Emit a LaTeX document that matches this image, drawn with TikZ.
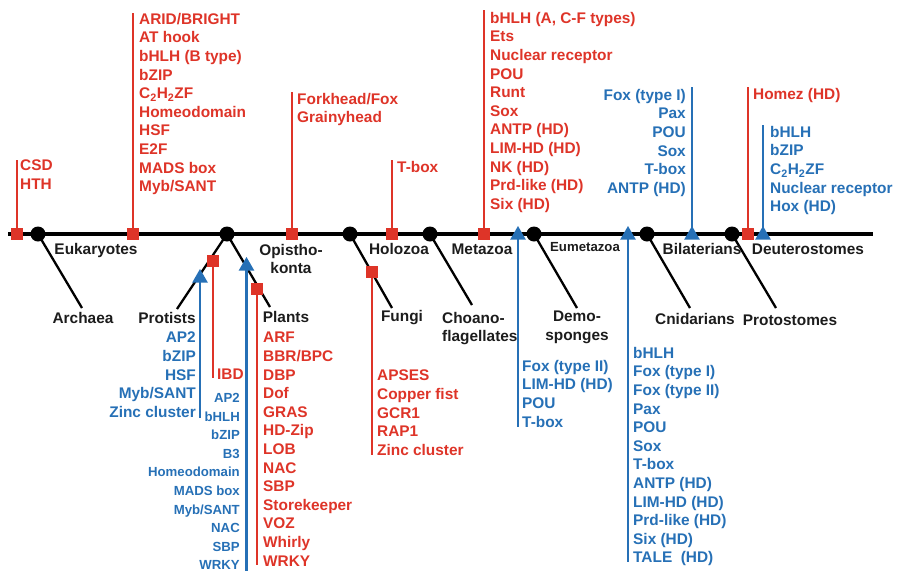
\documentclass[tikz,border=0pt]{standalone}
\usepackage{fontspec}
\setmainfont{Liberation Sans}
\usetikzlibrary{shapes.geometric}
\definecolor{tfred}{RGB}{222,52,40}
\definecolor{tfblue}{RGB}{38,112,182}
\definecolor{ink}{RGB}{28,28,28}
\pgfdeclarelayer{back}
\pgfsetlayers{back,main}

\begin{document}
\begin{tikzpicture}[x=1pt,y=-1pt,
  big/.style={font=\fontsize{15.4}{18.6}\selectfont\bfseries, inner sep=0pt},
  small/.style={font=\fontsize{13.2}{18.6}\selectfont\bfseries, inner sep=0pt},
  topline/.style={execute at begin node={\rule{0pt}{11.3pt}}},
  smalltopline/.style={execute at begin node={\rule{0pt}{9.7pt}}},
  redlist/.style={big, topline, text=tfred, anchor=north west, align=left},
  bluelist/.style={big, topline, text=tfblue, anchor=north west, align=left},
  bluelistr/.style={big, topline, text=tfblue, anchor=north east, align=right},
  taxon/.style={big, text=ink},
  clade/.style={circle, fill=black, inner sep=0pt, minimum size=15pt},
  gain/.style={rectangle, fill=tfred, inner sep=0pt, minimum size=12pt},
  expand/.style={regular polygon, regular polygon sides=3, fill=tfblue,
    inner sep=0pt, minimum size=18pt},
  axis/.style={line width=4pt, black},
  branch/.style={line width=2.3pt, black},
  redline/.style={line width=2.7pt, tfred},
  blueline/.style={line width=2.7pt, tfblue}]
\useasboundingbox (0,0) rectangle (897,571);

% ---------- the main axis and its clade points ----------
\coordinate (axL) at (8,234);
\coordinate (axR) at (873,234);
\node[clade] (nEuk) at (38,234) {};
\node[clade] (nOpk) at (227,234) {};
\node[clade] (nHol) at (350,234) {};
\node[clade] (nMet) at (430,234) {};
\node[clade] (nEum) at (534,234) {};
\node[clade] (nBil) at (647,234) {};
\node[clade] (nDeu) at (732,234) {};

% branch tips
\coordinate (bArc) at (82,308);
\coordinate (bPst) at (177,309);
\coordinate (bPla) at (270,307);
\coordinate (bFun) at (392,308);
\coordinate (bCho) at (472,305);
\coordinate (bDem) at (577,308);
\coordinate (bCni) at (690,308);
\coordinate (bPrs) at (776,308);

% ---------- gains (red squares) ----------
\node[gain] (gCSD) at (17,234) {};
\node[gain] (gEuk) at (133,234) {};
\node[gain] (gOpi) at (292,234) {};
\node[gain] (gHol) at (392,234) {};
\node[gain] (gMet) at (484,234) {};
\node[gain] (gDeu) at (748,234) {};
\node[gain] (gPst) at (213,261) {};
\node[gain] (gPla) at (257,289) {};
\node[gain] (gFun) at (372,272) {};

\coordinate (eCSD) at (17,160);
\coordinate (eEuk) at (133,13);
\coordinate (eOpi) at (292,92);
\coordinate (eHol) at (392,160);
\coordinate (eMet) at (484,10);
\coordinate (eDeu) at (748,87);
\coordinate (ePst) at (213,378);
\coordinate (ePla) at (257,565);
\coordinate (eFun) at (372,455);

% ---------- expansions (blue triangles) ----------
\node[expand] (xDem) at (518,235) {};
\node[expand] (xCni) at (628,235) {};
\node[expand] (xBil) at (692,235) {};
\node[expand] (xDeu) at (763,235) {};
\node[expand] (xPst) at (200,278) {};
\node[expand] (xPla) at (246.5,266) {};

\coordinate (fDem) at (518,427);
\coordinate (fCni) at (628,562);
\coordinate (fBil) at (692,87);
\coordinate (fDeu) at (763,125);
\coordinate (fPst) at (200,418);
\coordinate (fPla) at (246.5,571);

% ---------- connectors behind the markers ----------
\begin{pgfonlayer}{back}
  \draw[axis] (axL) -- (axR);
  \draw[branch] (nEuk.center) -- (bArc);
  \draw[branch] (nOpk.center) -- (bPst);
  \draw[branch] (nOpk.center) -- (bPla);
  \draw[branch] (nHol.center) -- (bFun);
  \draw[branch] (nMet.center) -- (bCho);
  \draw[branch] (nEum.center) -- (bDem);
  \draw[branch] (nBil.center) -- (bCni);
  \draw[branch] (nDeu.center) -- (bPrs);
  \foreach \g in {CSD,Euk,Opi,Hol,Met,Deu,Pst,Pla,Fun}
    \draw[redline] (g\g.center) -- (e\g);
  \foreach \x in {Dem,Cni,Bil,Deu,Pst,Pla}
    \draw[blueline] (x\x.center) -- (f\x);
\end{pgfonlayer}

% ---------- taxon labels ----------
\node[taxon, anchor=base] (tEuk) at (96,254) {Eukaryotes};
\node[taxon, anchor=base] (tArc) at (83,323) {Archaea};
\node[taxon, anchor=base] (tPst) at (167,323) {Protists};
\node[taxon, anchor=base] (tPla) at (286,322) {Plants};
\node[taxon, topline, anchor=north, align=center] (tOpi) at (291,244) {Opistho-\\konta};
\node[taxon, anchor=base] (tHol) at (399,254) {Holozoa};
\node[taxon, anchor=base] (tFun) at (402,321) {Fungi};
\node[taxon, topline, anchor=north west, align=left] (tCho) at (442,312) {Choano-\\flagellates};
\node[taxon, anchor=base] (tMet) at (482,254) {Metazoa};
\node[taxon, small, anchor=base] (tEum) at (585,251) {Eumetazoa};
\node[taxon, topline, anchor=north, align=center] (tDem) at (577,311) {Demo-\\sponges};
\node[taxon, anchor=base] (tBil) at (702,254) {Bilaterians};
\node[taxon, anchor=base] (tCni) at (695,324) {Cnidarians};
\node[taxon, anchor=base] (tPrs) at (790,325) {Protostomes};
\node[taxon, anchor=base] (tDeu) at (808,254) {Deuterostomes};

% ---------- gained families ----------
\node[redlist] (lCSD) at (20,160) {CSD\\HTH};
\node[redlist] (lEuk) at (139,13) {ARID/BRIGHT\\AT hook\\bHLH (B type)\\bZIP\\C\textsubscript{2}H\textsubscript{2}ZF\\Homeodomain\\HSF\\E2F\\MADS box\\Myb/SANT};
\node[redlist] (lOpi) at (297,93) {Forkhead/Fox\\Grainyhead};
\node[redlist] (lHol) at (397,161) {T-box};
\node[redlist] (lMet) at (490,12) {bHLH (A, C-F types)\\Ets\\Nuclear receptor\\POU\\Runt\\Sox\\ANTP (HD)\\LIM-HD (HD)\\NK (HD)\\Prd-like (HD)\\Six (HD)};
\node[redlist] (lDeu) at (753,88) {Homez (HD)};
\node[redlist] (lPst) at (217,368) {IBD};
\node[redlist] (lPla) at (263,332) {ARF\\BBR/BPC\\DBP\\Dof\\GRAS\\HD-Zip\\LOB\\NAC\\SBP\\Storekeeper\\VOZ\\Whirly\\WRKY};
\node[redlist] (lFun) at (377,370) {APSES\\Copper fist\\GCR1\\RAP1\\Zinc cluster};

% ---------- expanded families ----------
\node[bluelistr] (kBil) at (686,89) {Fox (type I)\\Pax\\POU\\Sox\\T-box\\ANTP (HD)};
\node[bluelist] (kDeu) at (770,126) {bHLH\\bZIP\\C\textsubscript{2}H\textsubscript{2}ZF\\Nuclear receptor\\Hox (HD)};
\node[bluelistr] (kPst) at (196,332) {AP2\\bZIP\\HSF\\Myb/SANT\\Zinc cluster};
\node[small, smalltopline, text=tfblue, anchor=north east, align=right] (kPla) at (240,393) {AP2\\bHLH\\bZIP\\B3\\Homeodomain\\MADS box\\Myb/SANT\\NAC\\SBP\\WRKY};
\node[bluelist] (kDem) at (522,360) {Fox (type II)\\LIM-HD (HD)\\POU\\T-box};
\node[bluelist] (kCni) at (633,347) {bHLH\\Fox (type I)\\Fox (type II)\\Pax\\POU\\Sox\\T-box\\ANTP (HD)\\LIM-HD (HD)\\Prd-like (HD)\\Six (HD)\\TALE\ \ (HD)};
\end{tikzpicture}
\end{document}
